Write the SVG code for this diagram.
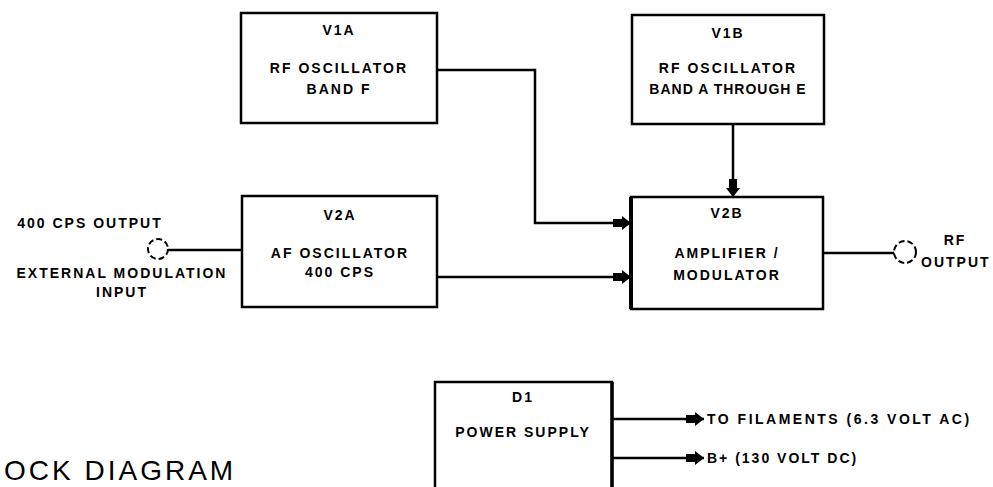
<svg xmlns="http://www.w3.org/2000/svg" width="993" height="487" viewBox="0 0 993 487">
<style>
.box{fill:#fff;stroke:#000;stroke-width:2.5}
.t{font-family:"Liberation Sans",Arial,sans-serif;font-size:14px;font-weight:bold;letter-spacing:2px;fill:#000}
.c{text-anchor:middle}
.ln{fill:none;stroke:#000;stroke-width:2.5}
.jack{fill:none;stroke:#000;stroke-width:2;stroke-dasharray:6 3}
.title{font-family:"Liberation Sans",Arial,sans-serif;font-size:28px;letter-spacing:3px;fill:#000}
</style>
<defs>
<marker id="ah" viewBox="0 0 18 14" refX="18" refY="7" markerWidth="18" markerHeight="14" markerUnits="userSpaceOnUse" orient="auto">
<path d="M0,3 L9,3 L9,0 L18,7 L9,14 L9,11 L0,11 Z" fill="#000"/>
</marker>
</defs>
<rect width="993" height="487" fill="#fff"/>
<g id="connectors">
<polyline class="ln" points="437,70 535,70 535,223 631,223" marker-end="url(#ah)"/>
<line class="ln" x1="437" y1="277" x2="631" y2="277" marker-end="url(#ah)"/>
<line class="ln" x1="733" y1="124" x2="733" y2="197" marker-end="url(#ah)"/>
<line class="ln" x1="168" y1="250" x2="242" y2="250"/>
<line class="ln" x1="823" y1="253" x2="894" y2="253"/>
<line class="ln" x1="612" y1="419" x2="704" y2="419" marker-end="url(#ah)"/>
<line class="ln" x1="612" y1="458" x2="704" y2="458" marker-end="url(#ah)"/>
</g>
<g id="V1A">
<rect class="box" x="241" y="13" width="196" height="110"/>
<text class="t c" x="339" y="35">V1A</text>
<text class="t c" x="339" y="73">RF OSCILLATOR</text>
<text class="t c" x="339" y="94">BAND F</text>
</g>
<g id="V1B">
<rect class="box" x="632" y="15" width="192" height="109"/>
<text class="t c" x="728" y="38">V1B</text>
<text class="t c" x="728" y="73">RF OSCILLATOR</text>
<text class="t c" x="728" y="94" style="letter-spacing:1px">BAND A THROUGH E</text>
</g>
<g id="V2A">
<rect class="box" x="242" y="196" width="195" height="111"/>
<text class="t c" x="340" y="220">V2A</text>
<text class="t c" x="340" y="258">AF OSCILLATOR</text>
<text class="t c" x="340" y="277">400 CPS</text>
</g>
<g id="V2B">
<rect class="box" x="631" y="197" width="192" height="112"/>
<line x1="631" y1="197" x2="631" y2="309" stroke="#000" stroke-width="4"/>
<text class="t c" x="727" y="218">V2B</text>
<text class="t c" x="727" y="258">AMPLIFIER /</text>
<text class="t c" x="727" y="280">MODULATOR</text>
</g>
<g id="D1">
<rect class="box" x="435" y="382" width="177" height="120"/>
<line x1="612" y1="382" x2="612" y2="490" stroke="#000" stroke-width="3.5"/>
<text class="t c" x="523" y="402">D1</text>
<text class="t c" x="523" y="437">POWER SUPPLY</text>
</g>
<g id="input">
<circle class="jack" cx="158" cy="249" r="10"/>
<text class="t c" x="90" y="228">400 CPS OUTPUT</text>
<text class="t c" x="122" y="278">EXTERNAL MODULATION</text>
<text class="t c" x="122" y="297">INPUT</text>
</g>
<g id="rf-output">
<circle class="jack" cx="905" cy="252" r="11"/>
<text class="t c" x="955" y="245">RF</text>
<text class="t" x="921" y="267">OUTPUT</text>
</g>
<g id="outputs">
<text class="t" x="707" y="424" style="letter-spacing:2.5px">TO FILAMENTS (6.3 VOLT AC)</text>
<text class="t" x="707" y="463">B+ (130 VOLT DC)</text>
</g>
<text class="title" x="4" y="480">OCK DIAGRAM</text>
</svg>
